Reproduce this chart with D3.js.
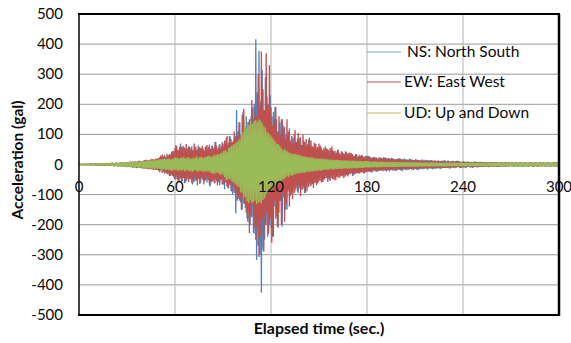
<!DOCTYPE html>
<html><head><meta charset="utf-8">
<script src="https://cdn.jsdelivr.net/npm/d3@7/dist/d3.min.js"></script>
<style>
body{margin:0;background:#fff;}
svg{display:block;}
text{font-family:Lato,"Open Sans",sans-serif;fill:#0a0a0a;}
</style></head><body>
<svg id="c" width="571" height="343"></svg>
<script>
const seriesNames = ["NS: North South","EW: East West","UD: Up and Down"];
const xTicks = [0,60,120,180,240,300];
const yTicks = [-500,-400,-300,-200,-100,0,100,200,300,400,500];
const dt = 0.5; // seconds per sample
const ns = [
0,1,-1,2,-1,1,-2,1,-1,2,-2,1,-1,2,-2,3,-1,2,-2,2,
-2,3,-2,2,-3,2,-2,3,-3,4,-2,3,-3,2,-3,4,-2,3,-4,3,
-4,5,-3,4,-5,4,-3,5,-6,5,-4,6,-5,4,-6,5,-6,7,-5,6,
-6,8,-7,6,-9,8,-7,10,-8,9,-10,8,-11,9,-8,12,-10,11,-12,10,
-10,13,-12,11,-14,12,-13,15,-12,14,-16,13,-15,17,-14,16,-18,15,-17,19,
-20,24,-17,22,-28,20,-22,33,-26,24,-31,28,-26,35,-38,30,-33,45,-40,38,
-51,65,-36,48,-58,44,-47,70,-62,50,-44,58,-62,48,-55,52,-40,60,-50,46,
-48,60,-66,41,-58,49,-52,44,-70,63,-45,57,-60,50,-48,55,-66,45,-52,58,
-60,48,-52,66,-73,50,-58,62,-49,55,-62,75,-55,48,-58,64,-70,52,-49,75,
-68,58,-82,70,-60,95,-78,72,-65,92,-88,75,-98,80,-95,92,-162,181,-120,110,
-110,140,-125,98,-150,175,-130,120,-145,160,-180,140,-130,150,-200,160,-175,190,-228,200,
-230,416,-317,240,-270,378,-300,210,-426,314,-284,180,-250,290,-200,225,-240,170,-200,230,
-210,160,-240,175,-140,191,-180,150,-207,110,-160,140,-120,150,-207,130,-110,125,-150,100,
-150,95,-80,120,-105,70,-95,88,-62,100,-90,75,-70,85,-95,62,-80,90,-70,65,
-70,80,-95,60,-75,68,-55,82,-60,50,-72,60,-65,55,-50,70,-58,48,-62,55,
-48,62,-40,55,-58,42,-50,46,-38,52,-45,50,-42,38,-55,45,-40,48,-36,42,
-45,36,-40,48,-32,40,-44,30,-36,42,-38,35,-30,44,-34,28,-40,32,-30,38,
-28,35,-38,26,-32,30,-25,34,-29,24,-30,28,-26,32,-24,27,-30,22,-25,28,
-26,30,-24,28,-25,22,-27,24,-20,26,-23,21,-25,19,-22,24,-18,23,-21,20,
-22,25,-20,23,-24,21,-19,22,-23,20,-18,22,-21,19,-20,17,-22,18,-19,21,
-18,21,-20,17,-22,19,-16,20,-18,17,-19,16,-17,20,-15,18,-17,16,-19,15,
-15,18,-17,16,-19,14,-16,15,-14,17,-16,13,-15,16,-13,15,-17,14,-12,15,
-13,15,-16,12,-14,13,-15,11,-12,14,-13,12,-15,11,-12,13,-11,14,-12,10,
-11,13,-12,10,-14,11,-10,12,-11,10,-12,11,-10,13,-9,11,-12,10,-11,9,
-9,11,-10,8,-12,9,-8,10,-9,8,-10,9,-11,8,-9,10,-8,9,-10,8,
-7,9,-8,7,-9,8,-6,8,-7,6,-8,7,-9,6,-7,8,-6,7,-8,6,
-6,7,-8,6,-7,5,-6,8,-7,6,-5,7,-6,8,-7,5,-6,7,-5,6,
-5,7,-6,5,-7,6,-5,6,-7,5,-6,7,-5,6,-8,5,-6,7,-5,6,
-6,5,-7,6,-5,7,-6,5,-8,6,-5,7,-6,5,-7,6,-5,8,-6,5,
-5,7,-6,5,-7,6,-5,7,-6,5,-7,6,-5,7,-6,8,-5,7,-6,5,
0];
const ew = [
0,-1,1,-2,1,-1,2,-1,1,-2,2,-1,1,-2,2,-1,2,-2,1,-2,
3,-2,3,-3,2,-3,4,-2,3,-3,2,-4,3,-3,4,-3,3,-4,4,-3,
5,-4,6,-5,4,-5,6,-4,5,-6,4,-6,7,-5,6,-5,6,-7,6,-8,
7,-9,8,-7,10,-8,9,-11,8,-9,11,-10,9,-12,11,-10,12,-11,10,-13,
12,-14,15,-13,16,-14,13,-16,15,-15,18,-16,17,-18,16,-17,20,-18,19,-21,
22,-26,30,-20,33,-25,28,-30,24,-28,36,-32,30,-38,34,-36,42,-38,45,-45,
55,-48,62,-50,50,-58,60,-45,58,-56,62,-45,55,-60,68,-50,52,-58,60,-48,
56,-62,48,-52,70,-45,60,-55,50,-48,58,-65,54,-42,62,-52,48,-56,60,-45,
65,-50,58,-68,52,-60,62,-55,50,-62,75,-48,62,-70,55,-60,68,-52,60,-65,
70,-65,80,-58,90,-72,65,-80,95,-68,85,-90,75,-70,110,-85,95,-100,90,-115,
140,-120,95,-150,165,-110,185,-130,120,-160,110,-190,140,-228,120,-170,214,-130,150,-210,
180,-250,160,-200,300,-307,190,-240,375,-180,250,-290,180,-200,370,-160,200,-230,330,-180,
190,-260,130,-240,150,-120,192,-170,110,-210,160,-120,100,-200,150,-95,120,-190,85,-130,
150,-90,110,-140,80,-100,95,-115,70,-95,115,-80,75,-90,105,-70,90,-105,65,-85,
100,-80,75,-95,85,-90,65,-75,90,-70,80,-65,60,-78,72,-62,68,-70,58,-60,
70,-55,62,-60,48,-58,55,-50,60,-45,52,-58,48,-50,55,-45,60,-48,44,-52,
46,-52,40,-42,50,-45,36,-38,44,-40,38,-46,35,-40,42,-36,38,-34,40,-32,
38,-30,34,-36,28,-32,35,-30,26,-28,32,-30,28,-26,30,-27,25,-29,28,-24,
26,-23,25,-22,24,-25,21,-23,22,-20,24,-21,23,-19,20,-22,21,-20,22,-19,
21,-19,20,-18,21,-20,17,-19,18,-17,20,-18,19,-16,18,-17,16,-18,17,-16,
18,-16,17,-15,16,-17,15,-16,14,-15,16,-14,15,-16,14,-15,13,-14,15,-15,
14,-15,13,-14,15,-12,13,-14,12,-13,14,-12,13,-11,12,-14,13,-12,11,-13,
12,-13,11,-12,13,-11,12,-10,11,-12,10,-12,11,-10,12,-11,10,-11,12,-10,
10,-11,12,-10,9,-11,10,-9,11,-10,9,-10,11,-9,10,-8,9,-10,8,-9,
9,-10,8,-9,10,-8,9,-8,7,-9,8,-9,7,-8,9,-7,8,-9,7,-8,
8,-7,9,-8,7,-8,6,-7,8,-6,7,-8,6,-7,8,-6,7,-6,8,-7,
7,-6,8,-7,6,-7,5,-6,7,-6,6,-7,5,-6,7,-5,6,-7,6,-5,
6,-5,7,-6,5,-6,7,-5,6,-5,5,-6,6,-5,7,-6,5,-6,6,-5,
5,-6,6,-5,7,-5,6,-6,5,-7,6,-5,6,-6,5,-7,6,-5,5,-6,
6,-5,5,-6,7,-5,6,-5,6,-7,5,-6,6,-5,7,-6,5,-6,7,-5,
0];
const ud = [
0,1,-1,1,-1,2,-1,1,-2,1,-1,2,-1,2,-2,1,-2,2,-1,2,
-2,2,-3,3,-2,3,-3,2,-3,4,-3,3,-2,4,-3,3,-4,3,-3,4,
-4,5,-4,5,-6,4,-5,5,-6,5,-5,6,-6,7,-5,6,-6,7,-7,6,
-8,8,-7,9,-8,7,-9,8,-10,9,-9,10,-8,10,-11,9,-10,11,-10,10,
-11,12,-12,11,-13,12,-12,13,-12,14,-14,13,-13,15,-15,14,-14,16,-16,15,
-14,18,-16,17,-21,18,-15,19,-20,18,-17,19,-20,21,-18,17,-22,19,-18,22,
-20,24,-17,22,-23,20,-19,23,-21,22,-18,26,-22,20,-21,23,-18,24,-23,21,
-22,20,-25,23,-21,22,-19,27,-24,21,-22,25,-21,26,-23,22,-26,24,-22,25,
-24,28,-22,30,-27,26,-29,28,-32,33,-30,31,-27,35,-29,33,-35,38,-32,40,
-36,45,-42,48,-52,42,-50,55,-47,58,-54,62,-58,66,-62,70,-66,75,-72,80,
-75,85,-92,100,-95,108,-108,125,-110,120,-122,135,-128,130,-120,140,-128,135,-125,145,
-120,148,-132,140,-128,150,-125,145,-130,138,-118,128,-112,122,-100,110,-90,105,-92,98,
-85,92,-80,85,-70,78,-72,70,-62,68,-60,62,-58,55,-52,48,-50,52,-45,46,
-40,44,-42,40,-36,38,-38,35,-34,36,-33,35,-30,33,-31,32,-29,30,-28,29,
-27,26,-28,27,-25,25,-26,24,-24,23,-24,25,-22,22,-23,21,-21,20,-22,21,
-20,19,-21,20,-19,18,-18,19,-17,17,-18,18,-17,16,-16,17,-16,15,-17,16,
-16,15,-15,16,-15,15,-14,14,-15,14,-14,13,-13,14,-13,13,-14,12,-13,13,
-13,12,-12,13,-12,12,-12,11,-12,11,-11,12,-11,11,-11,10,-11,11,-10,11,
-10,11,-10,10,-10,9,-9,10,-10,10,-9,10,-10,9,-9,9,-9,10,-9,9,
-9,9,-8,9,-9,8,-8,9,-9,8,-8,9,-8,8,-9,8,-8,8,-8,8,
-8,8,-7,8,-8,7,-7,8,-7,7,-8,7,-7,7,-7,8,-7,7,-7,7,
-7,7,-7,6,-7,7,-6,7,-6,6,-7,6,-6,7,-6,6,-6,6,-7,6,
-6,7,-6,6,-6,6,-5,6,-6,5,-6,6,-6,5,-5,6,-6,5,-6,6,
-6,5,-5,6,-5,5,-6,5,-5,6,-5,6,-5,5,-6,5,-5,6,-5,5,
-5,5,-6,5,-5,6,-5,5,-6,5,-5,6,-5,5,-5,6,-5,5,-6,5,
-5,6,-5,5,-6,5,-5,6,-5,5,-6,5,-5,5,-6,5,-5,6,-5,5,
-6,5,-5,6,-5,5,-6,5,-5,6,-5,5,-6,5,-5,6,-5,5,-5,6,
-5,6,-5,5,-6,5,-5,6,-5,5,-6,6,-5,5,-6,5,-5,6,-5,5,
-6,5,-5,6,-5,5,-6,5,-5,6,-5,6,-6,5,-5,6,-6,5,-5,6,
-5,6,-5,5,-6,6,-5,6,-5,5,-6,7,-6,6,-7,6,-6,7,-6,6,
0];
const colors = ["#4F81BD","#C0504D","#9BBB59"];
const legendColors = ["#7BA3D3","#C0504D","#BDB850"];

const svg = d3.select("#c");
const L=79,R=559,T=14,B=315;
const x = d3.scaleLinear().domain([0,300]).range([L,R]);
const y = d3.scaleLinear().domain([-500,500]).range([B,T]);

// gridlines
svg.append("g").selectAll("line").data(yTicks).join("line")
  .attr("x1",L).attr("x2",R).attr("y1",d=>y(d)).attr("y2",d=>y(d))
  .attr("stroke","#9a9a9a").attr("stroke-width",1);
svg.append("g").selectAll("line").data(xTicks.slice(1,-1)).join("line")
  .attr("y1",T).attr("y2",B).attr("x1",d=>x(d)).attr("x2",d=>x(d))
  .attr("stroke","#b4b4b4").attr("stroke-width",1);

// series
const series=[ns,ew,ud];
const line=d3.line().x((d,i)=>x(i*dt)).y(d=>y(d));
series.forEach((s,k)=>{
  svg.append("path").datum(s).attr("d",line).attr("fill","none")
    .attr("stroke",colors[k]).attr("stroke-width",1.3).attr("stroke-linejoin","bevel");
});

// frame
svg.append("line").attr("x1",L-1).attr("x2",R+1).attr("y1",T).attr("y2",T).attr("stroke","#000").attr("stroke-width",2);
svg.append("line").attr("x1",L-1).attr("x2",R+1).attr("y1",B).attr("y2",B).attr("stroke","#000").attr("stroke-width",2);
svg.append("line").attr("x1",L).attr("x2",L).attr("y1",T).attr("y2",B).attr("stroke","#000").attr("stroke-width",1.5);
svg.append("line").attr("x1",R).attr("x2",R).attr("y1",T).attr("y2",B+1).attr("stroke","#000").attr("stroke-width",2.5);

// y tick labels
svg.append("g").selectAll("text").data(yTicks).join("text")
  .attr("x",63).attr("y",d=>y(d)+5).attr("text-anchor","end")
  .attr("font-size",15).text(d=>d);
// x tick labels
svg.append("g").selectAll("text").data(xTicks).join("text")
  .attr("x",d=>x(d)).attr("y",192).attr("text-anchor","middle")
  .attr("font-size",15).text(d=>d);

// axis titles
svg.append("text").attr("x",319).attr("y",334).attr("text-anchor","middle")
  .attr("font-size",16).attr("font-weight","bold").text("Elapsed time (sec.)");
svg.append("text").attr("transform","translate(23,160) rotate(-90)").attr("text-anchor","middle")
  .attr("font-size",15.5).attr("font-weight","bold").text("Acceleration (gal)");

// legend
const ly=[52,82,113];
seriesNames.forEach((n,k)=>{
  svg.append("line").attr("x1",367).attr("x2",401).attr("y1",ly[k]).attr("y2",ly[k])
    .attr("stroke",legendColors[k]).attr("stroke-width",1);
  svg.append("text").attr("x",k===0?407:404).attr("y",ly[k]+5).attr("font-size",15.5).text(n);
});
</script></body></html>
